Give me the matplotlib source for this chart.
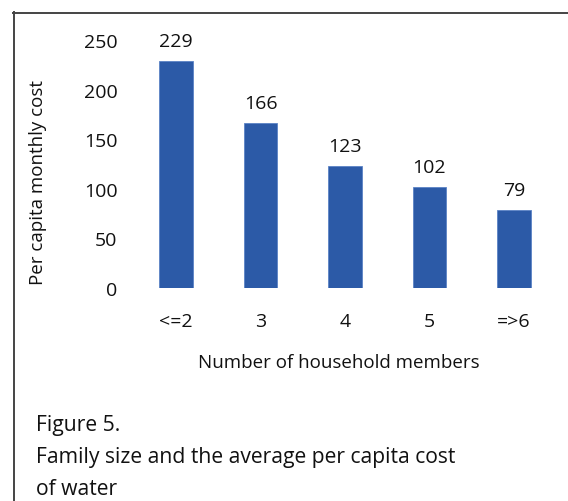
import matplotlib
matplotlib.use("Agg")
import matplotlib.pyplot as plt
from matplotlib.lines import Line2D

categories = ["<=2", "3", "4", "5", "=>6"]
costs = [229, 166, 123, 102, 79]
y_ticks = [0, 50, 100, 150, 200, 250]

plt.rcParams["font.family"] = ["Open Sans", "DejaVu Sans"]

W, H = 568, 502
fig = plt.figure(figsize=(W / 100, H / 100), dpi=100)
fig.patch.set_facecolor("white")

ax = fig.add_axes([134 / W, 1 - 289 / H, (556 - 134) / W, (289 - 41) / H])
x = range(len(categories))
ax.bar(x, costs, width=0.4, color="#2C5AA7", edgecolor="#5B83C6", linewidth=0.6)

for xi, v in zip(x, costs):
    ax.annotate(str(v), (xi, v), xytext=(0, 8), textcoords="offset points",
                ha="center", va="bottom", fontsize=14, color="#111111",
                annotation_clip=False)

ax.set_ylim(0, 250)
ax.set_xlim(-0.5, len(categories) - 0.5)
ax.set_yticks(y_ticks)
ax.set_xticks(list(x))
ax.set_xticklabels(categories)
ax.tick_params(axis="both", length=0, labelsize=14, colors="#111111")
ax.tick_params(axis="y", pad=12)
ax.tick_params(axis="x", pad=17)
for s in ax.spines.values():
    s.set_visible(False)

ax.set_ylabel("Per capita monthly cost", fontsize=13.5, color="#111111")
ax.yaxis.set_label_coords(-87 / 422, 0.431)
fig.text(339 / W, 1 - 363 / H, "Number of household members", ha="center", va="center",
         fontsize=13.5, color="#111111")

caption_lines = ["Figure 5.", "Family size and the average per capita cost", "of water"]
for line, base in zip(caption_lines, [431, 463, 495]):
    fig.text(36 / W, 1 - base / H, line, ha="left", va="baseline", fontsize=15.2,
             color="#111111")

# frame lines along the top and left of the figure
fig.add_artist(Line2D([13 / W, 1], [1 - 13.5 / H, 1 - 13.5 / H], transform=fig.transFigure,
                      color="#444444", linewidth=1.4))
fig.add_artist(Line2D([13.5 / W, 13.5 / W], [0, 1 - 13 / H], transform=fig.transFigure,
                      color="#444444", linewidth=1.4))

fig.savefig("out.png", dpi=100)
